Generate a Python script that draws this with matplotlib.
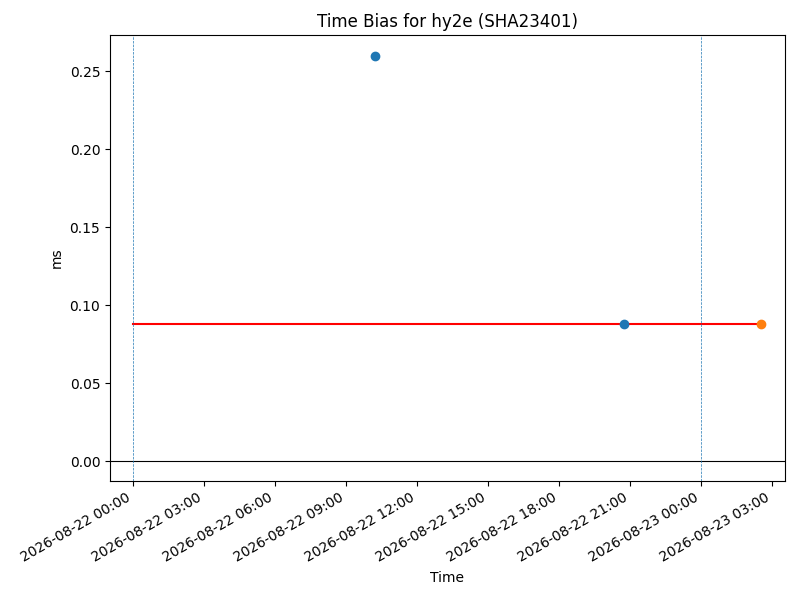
import matplotlib
matplotlib.use("Agg")
import matplotlib.pyplot as plt
import matplotlib.dates as mdates
import pandas as pd

# Data
blue_times = ["2026-08-22 10:15", "2026-08-22 20:44"]
blue_values = [0.26, 0.088]
orange_times = ["2026-08-23 02:32"]
orange_values = [0.088]
mean_line_times = ["2026-08-22 00:00", "2026-08-23 02:32"]
mean_line_values = [0.088, 0.088]
day_marks = ["2026-08-22 00:00", "2026-08-23 00:00"]
x_limits = ["2026-08-21 23:03", "2026-08-23 03:32"]
y_limits = [-0.0128, 0.2733]

bt = pd.to_datetime(blue_times)
ot = pd.to_datetime(orange_times)
mt = pd.to_datetime(mean_line_times)
dm = pd.to_datetime(day_marks)
xl = pd.to_datetime(x_limits)

fig, ax = plt.subplots(figsize=(8, 6), dpi=100)
ax.plot(mt, mean_line_values, color="red", linewidth=1.5)
ax.plot(bt, blue_values, "o", color="C0")
ax.plot(ot, orange_values, "o", color="C1")
ax.axhline(0, color="black", linewidth=0.8)
for d in dm:
    ax.axvline(d, color="C0", linestyle="--", linewidth=0.5)

ax.set_xlim(xl[0], xl[1])
ax.set_ylim(*y_limits)
ax.xaxis.set_major_locator(mdates.HourLocator(byhour=range(0, 24, 3)))
ax.xaxis.set_major_formatter(mdates.DateFormatter("%Y-%m-%d %H:%M"))
ax.set_title("Time Bias for hy2e (SHA23401)")
ax.set_xlabel("Time")
ax.set_ylabel("ms")
fig.autofmt_xdate()
fig.subplots_adjust(left=0.1375, right=0.98125, top=0.9417, bottom=0.1983)
fig.savefig("out.png", dpi=100)
